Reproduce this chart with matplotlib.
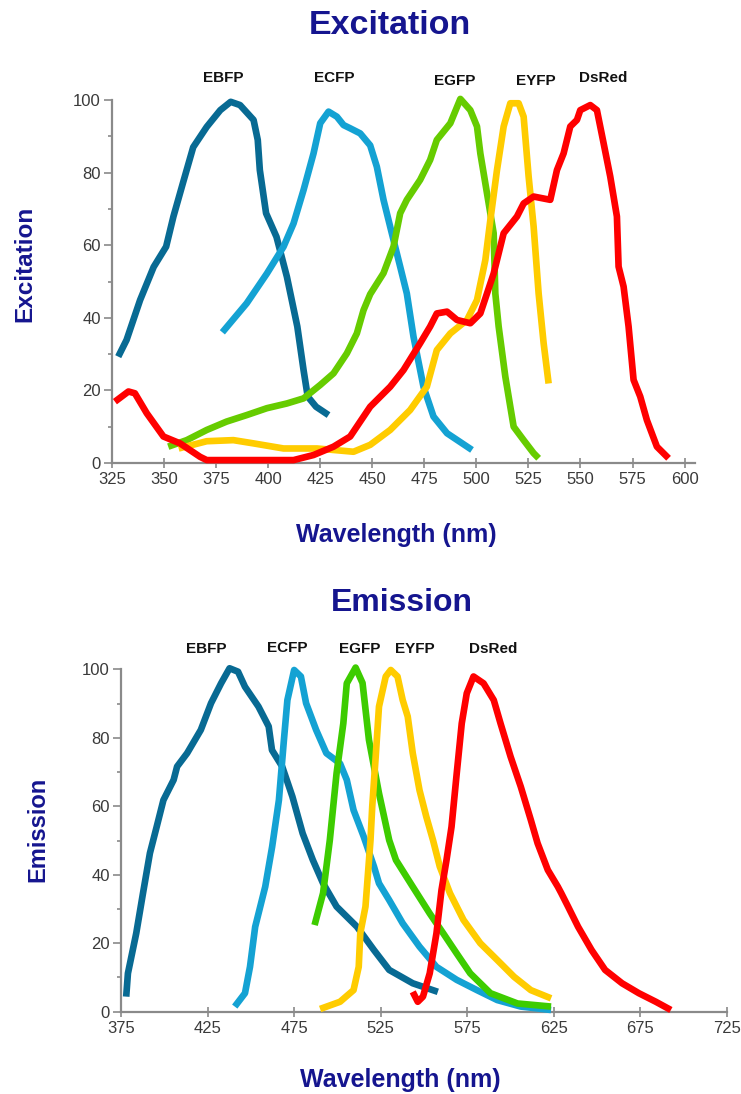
import matplotlib
matplotlib.use('Agg')
import matplotlib.pyplot as plt
from matplotlib import font_manager
from matplotlib.ticker import MultipleLocator

# ---- data (wavelength nm, relative %) ----
proteins = ['EBFP', 'ECFP', 'EGFP', 'EYFP', 'DsRed']

ex_ebfp_wl = [328, 332, 338.5, 345, 351, 354.5, 359, 364, 370.5, 377, 382, 386.5, 393, 395, 396, 399, 404, 409, 414, 417, 419, 423, 429]
ex_ebfp = [29.3, 33.9, 44.9, 54, 59.6, 67.9, 77, 87, 92.6, 97.2, 99.5, 98.6, 94.5, 89, 80.7, 68.8, 62.3, 51.3, 37.6, 25.6, 18.3, 15.5, 13.2]

ex_ecfp_wl = [378, 389.7, 399.4, 407.4, 412.2, 417, 421.8, 425, 429, 433, 436.2, 439.4, 444.2, 449, 452.2, 455.4, 458.6, 463.4, 466.6, 469.8, 474.6, 479.4, 485.9, 497.9]
ex_ecfp = [36, 44, 52.2, 59.6, 66, 75.2, 85.3, 93.6, 96.8, 95.4, 93.1, 92.2, 90.8, 87.5, 81.6, 72.5, 65.1, 54.1, 46.7, 34.8, 21, 12.8, 8.2, 3.6]

ex_egfp_wl = [352, 360.9, 370.5, 380, 389.7, 399.4, 409, 417, 425, 431.4, 437.8, 442.6, 445.8, 449, 455.4, 460.2, 463.4, 466.6, 473, 477.8, 481, 487.5, 492.3, 497.1, 500.3, 501.9, 505.1, 508.3, 509.1, 510.7, 513.9, 516.3, 517.9, 522.7, 527.5, 529.9]
ex_egfp = [4.5, 6.3, 9.1, 11.4, 13.2, 15.1, 16.4, 17.8, 21.5, 24.7, 30.2, 35.7, 42.1, 46.5, 52.3, 59.6, 68.8, 72.5, 78, 83.5, 89, 93.6, 100.3, 97.2, 92.7, 85.3, 74.3, 63.3, 46.7, 37.6, 23.8, 15.5, 10, 6.3, 2.7, 1.3]

ex_eyfp_wl = [357, 370.5, 383.3, 393, 407.4, 423.4, 441, 449, 458.6, 468.2, 476.2, 481, 487.5, 495.5, 500.3, 504.3, 506.7, 509.9, 513.1, 516.3, 520.3, 522.7, 525.1, 527.5, 529.9, 532.3, 534.7]
ex_eyfp = [4.0, 6.0, 6.3, 5.4, 4.0, 4.0, 3.1, 5.0, 9.1, 14.6, 21, 31.1, 35.7, 39.4, 44.9, 55.9, 66.9, 80.7, 92.7, 99.1, 99.1, 95.4, 78.9, 65.1, 46.7, 33, 21.9]

ex_dsred_wl = [326.4, 332.9, 336, 341.7, 349.7, 357.7, 367.3, 370.5, 412.2, 421.8, 431.4, 439.4, 449, 458.6, 465, 473, 477.8, 481, 485.9, 490.7, 497.1, 501.9, 505.1, 508.3, 511.5, 513.1, 519.5, 522.7, 527.5, 535.5, 538.7, 541.9, 545.1, 548.3, 549.9, 554.7, 557.9, 561.1, 564.3, 567.5, 568.3, 570.7, 573.1, 575.5, 578.7, 581.9, 586.7, 592.3]
ex_dsred = [16.9, 19.7, 19.2, 13.7, 7.3, 5.4, 1.7, 0.8, 0.8, 2.2, 4.5, 7.3, 15.5, 21, 25.6, 33, 37.6, 41.2, 41.7, 39.4, 38.5, 41.2, 46.7, 52.2, 59.6, 63.3, 67.9, 71.5, 73.4, 72.5, 80.7, 85.3, 92.7, 94.5, 97.2, 98.6, 97.2, 88.1, 78.9, 67.9, 54.1, 48.6, 37.6, 22.9, 18.3, 11.8, 4.5, 1.3]

em_ebfp_wl = [378, 379, 383.8, 387.7, 391.7, 395.6, 399.5, 405.4, 407.4, 413.2, 421.1, 427, 432.8, 437.7, 442.6, 446.6, 454.4, 460.3, 462.2, 468.1, 474, 479.9, 485.8, 491.7, 499.5, 511.3, 521.1, 529.9, 543.5, 558]
em_ebfp = [4.4, 11.2, 22.9, 34.6, 46.3, 54, 61.8, 67.7, 71.6, 75.5, 82.3, 90.1, 95.9, 100.3, 99.3, 94.9, 89.1, 83.3, 76.4, 71.6, 62.8, 52.1, 44.3, 37.5, 30.7, 24.8, 18, 12.2, 8.3, 5.8]

em_ecfp_wl = [440.7, 446.6, 449.5, 452.5, 458.3, 462.3, 466.2, 469.1, 471.1, 475, 478.9, 481.9, 487.7, 493.6, 501.5, 505.4, 509.3, 515.2, 521.1, 524, 529.9, 537.7, 547.4, 557.2, 568.9, 580.6, 592.3, 605.9, 623.4]
em_ecfp = [1.5, 5.4, 13.1, 24.8, 36.5, 48.2, 61.8, 79.4, 91, 99.8, 97.9, 90.1, 82.3, 75.5, 72.5, 67.7, 58.9, 51.1, 42.4, 37.5, 32.6, 25.8, 19, 13.1, 9.3, 6.3, 3.4, 1.5, 0.5]

em_egfp_wl = [486.8, 491.7, 495.6, 499.5, 503.4, 505.4, 510.5, 514.5, 518.2, 524, 529.9, 533.8, 543.5, 553.3, 561.1, 568.9, 576.7, 588.4, 604, 623.4]
em_egfp = [25.3, 34.6, 50.1, 69.6, 84.2, 95.9, 100.5, 96, 79.4, 63.8, 50.1, 44.3, 36.5, 28.7, 22.9, 17, 11.2, 5.4, 2.4, 1.5]

em_eyfp_wl = [490, 501.5, 509.3, 512.3, 513.2, 516.2, 519.1, 520.1, 522.1, 524, 527.9, 530.8, 534.7, 537.7, 540.6, 543.5, 547.4, 551.3, 555.2, 559.1, 565, 572.8, 582.5, 592.3, 602, 611.7, 623.4]
em_eyfp = [0.8, 2.9, 6.3, 13.1, 22.9, 30.7, 50.1, 59.9, 74.5, 89.1, 97.9, 99.8, 97.9, 91, 86.2, 75.5, 64.7, 57, 50.1, 42.4, 34.6, 26.8, 20, 15.1, 10.2, 6.3, 3.9]

em_dsred_wl = [543.5, 546.4, 549.4, 553.3, 557.2, 560.1, 563, 565.9, 568.9, 571.8, 574.7, 578.6, 584.4, 590.3, 594.2, 600, 605.9, 611.7, 615.6, 621.5, 627.3, 629.3, 633.2, 639, 646.8, 654.6, 664.4, 674.1, 683.9, 692.6]
em_dsred = [5.8, 2.9, 4.4, 11.2, 22.9, 35.5, 44.3, 54, 69.6, 84.2, 93, 97.9, 95.9, 91, 84.2, 74.5, 65.7, 56, 49.2, 41.4, 36.5, 34.6, 30.7, 24.8, 18, 12.2, 8.3, 5.4, 2.9, 0.5]

ex_label_x = [378.5, 431.8, 489.5, 528.4, 560.8]
ex_label_y = [106, 106, 105.1, 105.1, 106]
em_label_x = [424, 471.2, 513, 544.8, 590.1]
em_label_y = [105.8, 106.3, 106.0, 105.8, 105.8]

colors_ex = ['#086a93', '#14a2d3', '#66cc00', '#ffcc00', '#ff0000']
colors_em = ['#086a93', '#14a2d3', '#3dcc00', '#ffcc00', '#ff0000']

# ---- fonts ----
names = {f.name for f in font_manager.fontManager.ttflist}
if 'Liberation Sans Narrow' in names:
    narrow = 'Liberation Sans Narrow'
    tick_size, lab_size = 14, 13
else:
    narrow = 'Liberation Sans'
    tick_size, lab_size = 12, 11
wide = 'Liberation Sans'
navy = '#15158f'

W, H = 741, 1094
fig = plt.figure(figsize=(W / 100, H / 100), dpi=100)


def px_axes(left, right, top, bottom):
    return fig.add_axes([left / W, 1 - bottom / H, (right - left) / W, (bottom - top) / H])


def style_axis(ax, xlim, xstep, xstart):
    ax.set_xlim(*xlim)
    ax.set_ylim(0, 100)
    for side in ['top', 'right']:
        ax.spines[side].set_visible(False)
    for side in ['left', 'bottom']:
        ax.spines[side].set_color('#8a8a8a')
        ax.spines[side].set_linewidth(1.6)
    ax.set_xticks(list(range(xstart, int(xlim[1]) + 1, xstep)))
    ax.yaxis.set_major_locator(MultipleLocator(20))
    ax.yaxis.set_minor_locator(MultipleLocator(10))
    ax.tick_params(axis='x', direction='inout', length=7, width=1.2, color='#8a8a8a', pad=3,
                   labelsize=tick_size, labelcolor='#3a3a3a')
    ax.tick_params(axis='y', which='major', direction='out', length=6, width=1.2, color='#8a8a8a',
                   pad=2, labelsize=tick_size, labelcolor='#3a3a3a')
    ax.tick_params(axis='y', which='minor', direction='out', length=3, width=1.2, color='#8a8a8a')
    for lab in ax.get_xticklabels() + ax.get_yticklabels():
        lab.set_family([narrow, 'DejaVu Sans'])
    ax.patch.set_alpha(0)


# ---- Excitation ----
ax1 = px_axes(112, 695, 100, 463)
style_axis(ax1, (325, 605), 25, 325)
ex_series = [(ex_ebfp_wl, ex_ebfp), (ex_ecfp_wl, ex_ecfp), (ex_egfp_wl, ex_egfp),
             (ex_eyfp_wl, ex_eyfp), (ex_dsred_wl, ex_dsred)]
for i in [3, 2, 1, 0, 4]:
    x, y = ex_series[i]
    ax1.plot(x, y, color=colors_ex[i], lw=4.8, solid_capstyle='butt', solid_joinstyle='round',
             clip_on=False, zorder=3 + i)
for name, lx, ly in zip(proteins, ex_label_x, ex_label_y):
    ax1.text(lx, ly, name, ha='center', va='center', fontsize=lab_size, fontweight='bold',
             family=[narrow, 'DejaVu Sans'], color='#111111', clip_on=False)

# ---- Emission ----
ax2 = px_axes(121, 727, 669.3, 1011.7)
style_axis(ax2, (375, 725), 50, 375)
em_series = [(em_ebfp_wl, em_ebfp), (em_ecfp_wl, em_ecfp), (em_egfp_wl, em_egfp),
             (em_eyfp_wl, em_eyfp), (em_dsred_wl, em_dsred)]
for i in [0, 3, 1, 2, 4]:
    x, y = em_series[i]
    ax2.plot(x, y, color=colors_em[i], lw=4.8, solid_capstyle='butt', solid_joinstyle='round',
             clip_on=False, zorder=3 + i)
for name, lx, ly in zip(proteins, em_label_x, em_label_y):
    ax2.text(lx, ly, name, ha='center', va='center', fontsize=lab_size, fontweight='bold',
             family=[narrow, 'DejaVu Sans'], color='#111111', clip_on=False)


# ---- titles and axis labels ----
def ftext(x, y, s, size, rot=0):
    fig.text(x / W, 1 - y / H, s, ha='center', va='center', fontsize=size, fontweight='bold',
             color=navy, family=[wide, 'DejaVu Sans'], rotation=rot)


ftext(390, 25, 'Excitation', 24.5)
ftext(25, 264, 'Excitation', 17.5, rot=90)
ftext(396, 535, 'Wavelength (nm)', 18)

ftext(402, 603, 'Emission', 23)
ftext(38, 829, 'Emission', 17, rot=90)
ftext(400, 1080, 'Wavelength (nm)', 18)

fig.savefig('out.png', dpi=100)
